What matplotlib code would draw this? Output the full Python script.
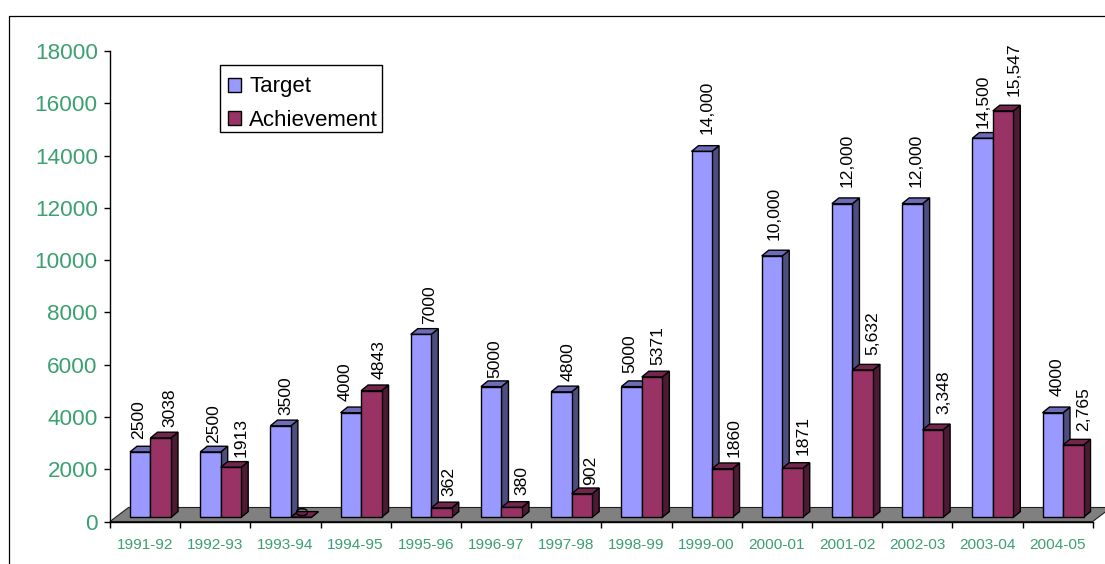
import matplotlib
matplotlib.use("Agg")
import matplotlib.pyplot as plt
from matplotlib.patches import Polygon, Patch, Rectangle
from matplotlib.lines import Line2D

plt.rcParams['font.family'] = ['Liberation Sans', 'DejaVu Sans']

years = ["1991-92", "1992-93", "1993-94", "1994-95", "1995-96", "1996-97", "1997-98",
         "1998-99", "1999-00", "2000-01", "2001-02", "2002-03", "2003-04", "2004-05"]
target = [2500, 2500, 3500, 4000, 7000, 5000, 4800, 5000, 14000, 10000, 12000, 12000, 14500, 4000]
achievement = [3038, 1913, 0, 4843, 362, 380, 902, 5371, 1860, 1871, 5632, 3348, 15547, 2765]
target_text = ["2500", "2500", "3500", "4000", "7000", "5000", "4800", "5000",
               "14,000", "10,000", "12,000", "12,000", "14,500", "4000"]
achievement_text = ["3038", "1913", "0", "4843", "362", "380", "902", "5371",
                    "1860", "1871", "5,632", "3,348", "15,547", "2,765"]
yticks = list(range(0, 18001, 2000))

# label placement in pixels relative to the bar's front-top centre
target_shift = [-1.3, 2.9, 5.7, -5.8, 8.3, 3.8, 7.1, -2.1, 5.2, 2.3, 5.1, 3.7, 0.8, 4]
target_gap = [12.6, 9.3, 10.8, 12, 10.3, 8.9, 11.1, 13.9, 17.3, 16, 16.9, 16.9, 10, 17]
achieve_shift = [9, 10.4, 2.9, 7.4, 7.2, 10.3, 8.4, 5.9, 11.4, 10.5, 10.3, 11.2, 11, 10.1]
achieve_gap = [11.2, 10, 1.3, 11.4, 11.8, 12.4, 8.7, 11.9, 11.4, 13.4, 15.1, 15.5, 14.9, 14.3]

W, H = 1105, 564
fig = plt.figure(figsize=(W / 100, H / 100), dpi=100, facecolor='white')
AX_L, AX_R, AX_T, AX_B = 110, 1092.7, 51, 521.5
ax = fig.add_axes([AX_L / W, 1 - AX_B / H, (AX_R - AX_L) / W, (AX_B - AX_T) / H])
ax.set_xlim(0, 14)
ax.set_ylim(0, 18000)
px_x = 14 / (AX_R - AX_L)
px_y = 18000 / (AX_B - AX_T)

DX, DY = 7 * px_x, 5.7 * px_y      # depth of a bar
BASE = 4.2 * px_y                  # bars stand on the floor, above the front edge
BAR_W = 20.5 * px_x
START = 20 * px_x
EDGE = dict(edgecolor='black', linewidth=1.0, joinstyle='miter')

# floor
fd_x, fd_y = 18.5 * px_x, 14 * px_y
ax.add_patch(Polygon([(0, 0), (14, 0), (14 + fd_x, fd_y), (fd_x, fd_y)], closed=True,
                     facecolor='#808080', edgecolor='#202020', linewidth=0.8,
                     clip_on=False, zorder=1))

z = 2


def bar3d(x0, v, front, side, top):
    global z
    ax.bar(x0, v, BAR_W, bottom=BASE, align='edge', color=front, zorder=z + 2, clip_on=False, **EDGE)
    t = BASE + v
    ax.add_patch(Polygon([(x0 + BAR_W, BASE), (x0 + BAR_W + DX, BASE + DY), (x0 + BAR_W + DX, t + DY), (x0 + BAR_W, t)],
                         closed=True, facecolor=side, zorder=z + 1, clip_on=False, **EDGE))
    ax.add_patch(Polygon([(x0, t), (x0 + DX, t + DY), (x0 + BAR_W + DX, t + DY), (x0 + BAR_W, t)],
                         closed=True, facecolor=top, zorder=z + 1, clip_on=False, **EDGE))
    z += 3


for i in range(len(years)):
    x1 = i + START
    x2 = x1 + BAR_W
    bar3d(x1, target[i], '#9999FF', '#4D4D80', '#6C6CB8')
    bar3d(x2, achievement[i], '#993366', '#4D1A33', '#73264D')

for i in range(len(years)):
    x1 = i + START + BAR_W / 2 + target_shift[i] * px_x
    x2 = i + START + BAR_W * 1.5 + achieve_shift[i] * px_x
    ax.text(x1, BASE + target[i] + target_gap[i] * px_y, target_text[i], rotation=90,
            ha='center', va='bottom', fontsize=12.6, color='black', zorder=200, clip_on=False)
    ax.text(x2, BASE + achievement[i] + achieve_gap[i] * px_y, achievement_text[i], rotation=90,
            ha='center', va='bottom', fontsize=12.6, color='black', zorder=200, clip_on=False)

for s in ('top', 'right'):
    ax.spines[s].set_visible(False)
for s in ('left', 'bottom'):
    ax.spines[s].set_linewidth(1.0)
    ax.spines[s].set_zorder(150)

ax.set_yticks(yticks)
ax.set_xticks(range(15))
ax.set_xticklabels([])
ax.set_xticks([i + 0.5 for i in range(14)], minor=True)
ax.set_xticklabels(years, minor=True, fontsize=11.1, color='#3CA070')
ax.tick_params(axis='x', which='minor', length=0, pad=12)
ax.tick_params(axis='x', which='major', length=4.3, width=1.0)
ax.tick_params(axis='y', length=4.3, width=1.0, pad=4.5, labelsize=16.2, labelcolor='#3CA070')

# outer chart-area border (open on the right and bottom)
fig.add_artist(Line2D([8.5 / W, 8.5 / W, 1], [0, 1 - 16 / H, 1 - 16 / H], color='black', linewidth=0.9))

# legend box, with the entries placed inside it
fig.add_artist(Rectangle((220 / W, 1 - 132 / H), 162 / W, 67 / H, transform=fig.transFigure,
                         facecolor='white', edgecolor='black', linewidth=1.0, zorder=300))
handles = [Patch(facecolor='#9999FF', edgecolor='black', linewidth=1.0, label='Target'),
           Patch(facecolor='#993366', edgecolor='black', linewidth=1.0, label='Achievement')]
leg = fig.legend(handles=handles, loc='upper left', bbox_to_anchor=(221.5 / W, 1 - 70 / H),
                 fontsize=16, frameon=False,
                 handlelength=0.6, handleheight=0.6, handletextpad=0.35, labelspacing=0.55,
                 borderpad=0.29, borderaxespad=0)
leg.set_zorder(301)

fig.savefig('out.png', dpi=100)
